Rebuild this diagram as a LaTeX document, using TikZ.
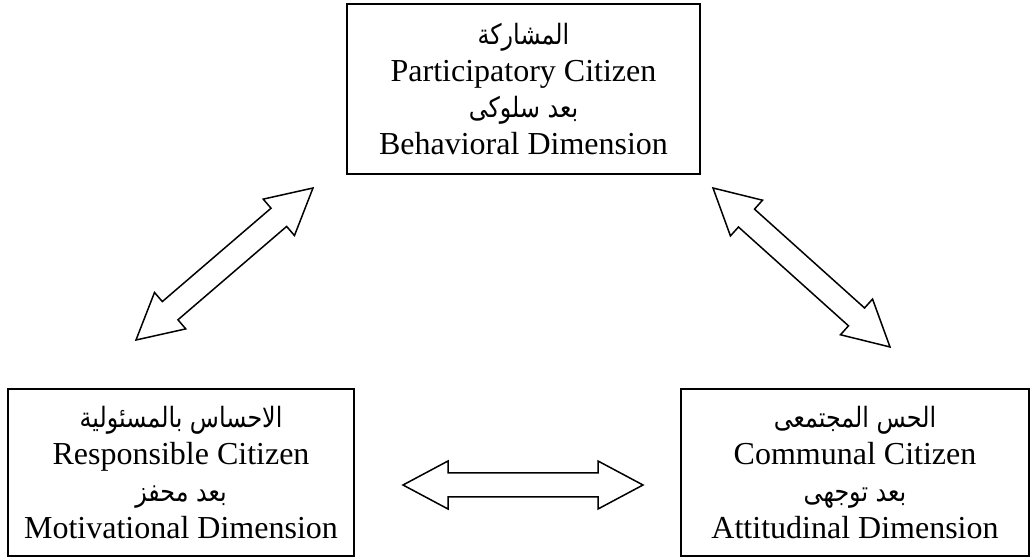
\documentclass[tikz,border=0pt]{standalone}
\usepackage{fontspec}
\setmainfont{Liberation Serif}
\newfontfamily\arabicfont[Script=Arabic, FakeStretch=0.85]{DejaVu Sans}
\TeXXeTstate=1
\usetikzlibrary{calc}
\newcommand\artext[1]{{\arabicfont\fontsize{28}{36.8}\selectfont\beginR #1\endR}}
\tikzset{
  dimbox/.style={draw=black, line width=2pt, rectangle, align=center,
    font=\fontsize{32}{36.8}\selectfont, inner sep=0pt},
  hollowarrow/.style={draw=black, line width=1.5pt, fill=white, line join=miter}
}
\begin{document}
\begin{tikzpicture}[x=1pt,y=1pt]
  \useasboundingbox (0,0) rectangle (1032,559);

  % the three citizenship dimensions
  \node[dimbox, minimum width=353pt, minimum height=170pt] (top) at (523.5,470)
    {\artext{المشاركة}\\Participatory Citizen\\\artext{بعد سلوكى}\\Behavioral Dimension};
  \node[dimbox, minimum width=346pt, minimum height=167pt] (left) at (181,86.5)
    {\artext{الاحساس بالمسئولية}\\Responsible Citizen\\\artext{بعد محفز}\\Motivational Dimension};
  \node[dimbox, minimum width=348pt, minimum height=167pt] (right) at (855,86.5)
    {\artext{الحس المجتمعى}\\Communal Citizen\\\artext{بعد توجهى}\\Attitudinal Dimension};

  % end points of the hollow double arrows
  \coordinate (l1) at (136,219);
  \coordinate (l2) at (313,371);
  \coordinate (r1) at (713,371);
  \coordinate (r2) at (890,212);
  \coordinate (h1) at (403,74);
  \coordinate (h2) at (643,74);

  % hollow double arrow between two named points
  \foreach \a/\b in {l1/l2, r1/r2, h1/h2}{
    \draw[hollowarrow]
      let \p1=($(\b)-(\a)$), \n1={atan2(\y1,\x1)}, \n2={veclen(\x1,\y1)} in
      [shift={(\a)}, rotate=\n1]
      (0,0) -- (45,24) -- (45,12) -- (\n2-45,12) -- (\n2-45,24) -- (\n2,0)
      -- (\n2-45,-24) -- (\n2-45,-12) -- (45,-12) -- (45,-24) -- cycle;
  }
\end{tikzpicture}
\end{document}
